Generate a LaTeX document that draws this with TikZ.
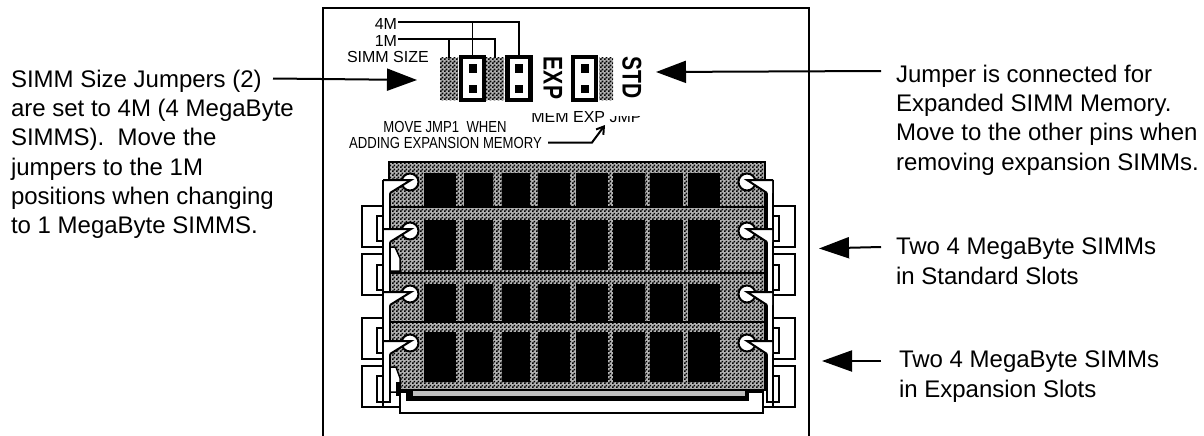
\documentclass[tikz,border=0pt]{standalone}
\usepackage{graphicx}
\usepackage{fontspec}
\setmainfont{Liberation Sans}
\usetikzlibrary{arrows.meta,patterns}

\pgfdeclarepatternformonly{simmdots}{\pgfpointorigin}{\pgfpoint{4pt}{4pt}}{\pgfpoint{4pt}{4pt}}{
  \pgfpathrectangle{\pgfpoint{0pt}{0pt}}{\pgfpoint{2pt}{2pt}}
  \pgfpathrectangle{\pgfpoint{2pt}{2pt}}{\pgfpoint{2pt}{2pt}}
  \pgfusepath{fill}
}
\newcommand{\narrowtext}[2]{\scalebox{#1}[1]{#2}}

\begin{document}
\begin{tikzpicture}[
  x=1pt,y=-1pt,
  every node/.style={inner sep=0pt,outer sep=0pt},
  notetext/.style={font=\fontsize{24}{29.3}\selectfont,align=left,anchor=north west},
  smalltext/.style={font=\fontsize{16}{18}\selectfont},
  bigtext/.style={font=\fontsize{27}{30}\selectfont\bfseries,rotate=-90},
  thinblack/.style={draw=black,line width=1.5pt},
  wire/.style={draw=black,line width=1.5pt},
  pointer/.style={draw=black,line width=2pt,-{Triangle[length=30pt,width=22pt]}},
  shortpointer/.style={draw=black,line width=2pt,-{Triangle[length=30pt,width=21pt]}},
  dotblock/.style={draw=none,fill=gray!60,minimum height=42pt},
  jumper/.style={draw=black,line width=4.5pt,fill=white,minimum width=23pt,minimum height=43pt},
  pin/.style={fill=black,minimum size=8pt},
  lever/.style={draw=black,line width=2pt,fill=white}
]
\useasboundingbox (0,0) rectangle (1204,436);

% frame of the board
\draw[line width=2pt] (323,436) -- (323,8) -- (809,8) -- (809,436);

% simm boards
\foreach \ytop/\ybot/\wtop/\wbot in {162/207/173/206,207/273/220/270,273/322/284/321,322/390/332/382} {
  \fill[gray!60] (389,\ytop) rectangle (765,\ybot);
  \fill[pattern=simmdots,pattern color=black] (389,\ytop) rectangle (765,\ybot);
  \draw[thinblack] (389,\ytop) rectangle (765,\ybot);
  \foreach \wl/\wr in {424/456,464/493,502/530,538/570,576/608,613/645,650/683,688/720}
    \fill[black] (\wl,\wtop) rectangle (\wr,\wbot);
}

% side brackets
\foreach \ytop/\ybot/\iy/\iz in {206/247/216/241,254/295/265/290,318/359/328/353,366/407/376/402} {
  \draw[thinblack,fill=white] (362,\ytop) rectangle (383,\ybot);
  \draw[thinblack,fill=white] (377,\iy) rectangle (383,\iz);
  \draw[thinblack,fill=white] (773,\ytop) rectangle (795,\ybot);
  \draw[thinblack,fill=white] (773,\iy) rectangle (779,\iz);
}

% latch strips
\fill[white] (383,180) rectangle (390,402);
\fill[white] (767,180) rectangle (773,402);
\draw[line width=2pt] (383,180) -- (383,402) -- (390,402) -- (390,193);
\draw[line width=2pt] (773,180) -- (773,402) -- (767,402) -- (767,193);
\draw[thinblack,fill=white] (391,247) -- (395,247) -- (400,258) -- (400,271) -- (391,271);
\draw[thinblack,fill=white] (391,367) -- (396,367) -- (400,378) -- (400,392) -- (391,392);
\fill[black] (396,382) rectangle (400,396);

% latches
\foreach \yl in {180,229,292,341} {
  \node[lever,circle,minimum size=17pt] (latchl\yl) at (410,\yl+2) {};
  \node[lever,circle,minimum size=17pt] (latchr\yl) at (747,\yl+2) {};
  \fill[white] (384,\yl) -- (411,\yl) -- (390,\yl+13) -- (384,\yl+13) -- cycle;
  \draw[line width=2pt] (383,\yl) -- (411,\yl) -- (390,\yl+13);
  \fill[white] (772,\yl) -- (747,\yl) -- (767,\yl+13) -- (772,\yl+13) -- cycle;
  \draw[line width=2pt] (773,\yl) -- (747,\yl) -- (767,\yl+13);
}

% socket
\draw[line width=1.5pt,fill=white] (362,407) -- (400,407) -- (400,392) -- (407,392) -- (407,400) -- (748,400) -- (748,392) -- (763,392) -- (763,407) -- (795,407) -- (763,407) -- (763,413) -- (400,413) -- (400,407);
\fill[black] (407,389) rectangle (748,400);
\fill[gray!50] (413,391) rectangle (745,396);

% jumper blocks
\node[dotblock,minimum width=18pt] (blocka) at (449,79) {};
\node[dotblock,minimum width=18pt] (blockb) at (495,79) {};
\node[dotblock,minimum width=14pt] (blockc) at (606,79) {};
\foreach \bname in {blocka,blockb,blockc}
  \fill[pattern=simmdots,pattern color=black] (\bname.north west) rectangle (\bname.south east);
\node[jumper] (jmpa) at (472.5,78.5) {};
\node[jumper] (jmpb) at (519,78.5) {};
\node[jumper] (jmpc) at (584.5,78.5) {};
\foreach \jname in {jmpa,jmpb,jmpc} {
  \node[pin] (\jname top) at ([yshift=-10pt]\jname.center) {};
  \node[pin] (\jname bot) at ([yshift=10pt]\jname.center) {};
}
\node[bigtext] (explabel) at (553,78) {\narrowtext{0.78}{EXP}};
\node[bigtext] (stdlabel) at (632,78) {\narrowtext{0.78}{STD}};

% size labels and wires
\node[smalltext,anchor=base east] (fourm) at (397,30) {4M};
\node[smalltext,anchor=base east] (onem) at (397,47) {1M};
\node[smalltext,anchor=base west] (simmsize) at (347,63) {SIMM SIZE};
\coordinate (fourmstart) at (398,22);
\coordinate (onemstart) at (398,39);
\draw[wire] (fourmstart) -| (jmpb.north);
\draw[wire] (onemstart) -| (blockb.north);
\draw[wire] (jmpa.north) -- (jmpa.north |- fourmstart);
\draw[wire] (blocka.north) -- (blocka.north |- onemstart);

% clipped jumper title
\node[smalltext,anchor=base] (memexp) at (586.5,122) {MEM EXP JMP};
\fill[white] (530,104) rectangle (572,112.5);
\fill[white] (608,104) rectangle (644,115.5);

\node[smalltext,anchor=base] (movejmp) at (445,132) {\narrowtext{0.82}{MOVE JMP1\ \ WHEN}};
\node[smalltext,anchor=base] (adding) at (445.5,148) {\narrowtext{0.82}{ADDING EXPANSION MEMORY}};
\coordinate (addingstart) at (548,142.5);
\coordinate (addingbend) at (592,142.5);
\coordinate (addingtip) at (605,125);
\draw[line width=2pt,-{Straight Barb[length=7pt,width=9pt]}] (addingstart) -- (addingbend) -- (addingtip);

% notes
\node[notetext] (sizenote) at (11,70) {SIMM Size Jumpers (2)\\are set to 4M (4 MegaByte\\SIMMS).\ \ Move the\\jumpers to the 1M\\positions when changing\\to 1 MegaByte SIMMS.};
\node[notetext] (expnote) at (896,65) {Jumper is connected for\\Expanded SIMM Memory.\\Move to the other pins when\\removing expansion SIMMs.};
\node[notetext] (stdnote) at (896,238) {Two 4 MegaByte SIMMs\\in Standard Slots};
\node[notetext] (expslots) at (899,351) {Two 4 MegaByte SIMMs\\in Expansion Slots};

% arrows
\coordinate (sizestart) at (273,78.5);
\coordinate (sizetip) at (417,80);
\coordinate (expstart) at (881,71);
\coordinate (exptip) at (656,72);
\coordinate (stdstart) at (881,247);
\coordinate (stdtip) at (819,248.5);
\coordinate (slotstart) at (881,361);
\coordinate (slottip) at (822,361);
\draw[pointer] (sizestart) -- (sizetip);
\draw[pointer] (expstart) -- (exptip);
\draw[shortpointer] (stdstart) -- (stdtip);
\draw[shortpointer] (slotstart) -- (slottip);
\end{tikzpicture}
\end{document}
